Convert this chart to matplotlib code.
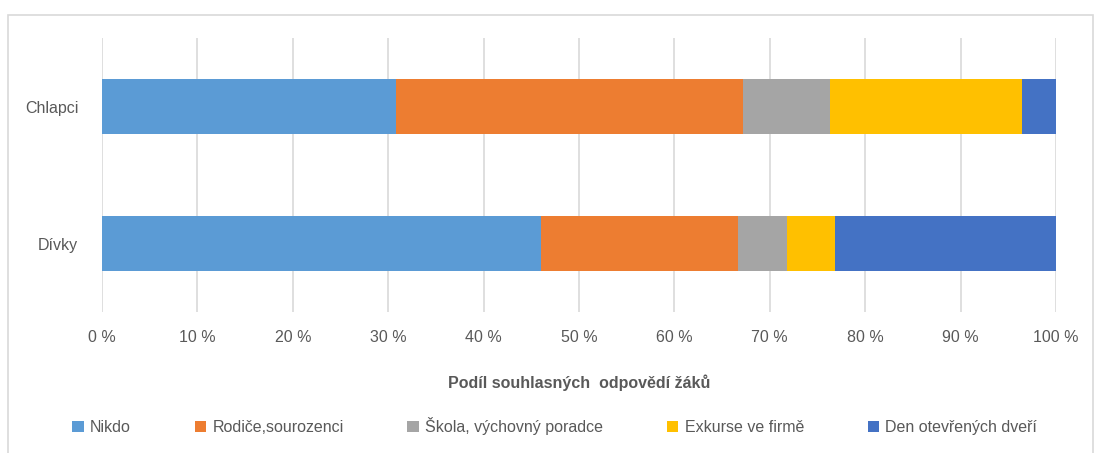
#!/usr/bin/env python3
"""stacked horizontal bar chart of student answers"""
import matplotlib.pyplot as plt
from matplotlib.patches import Rectangle

plt.rcParams['font.family'] = ['Liberation Sans Narrow', 'Liberation Sans',
                               'DejaVu Sans']

groups = ["Dívky", "Chlapci"]
series = ["Nikdo", "Rodiče,sourozenci", "Škola, výchovný poradce",
          "Exkurse ve firmě", "Den otevřených dveří"]
# shares in percent, order follows groups
nikdo = [46.0, 30.8]
rodice = [20.7, 36.4]
skola = [5.1, 9.1]
exkurse = [5.0, 20.1]
den = [23.2, 3.6]
colors = ["#5b9bd5", "#ed7d31", "#a5a5a5", "#ffc000", "#4472c4"]
xticks = [0, 10, 20, 30, 40, 50, 60, 70, 80, 90, 100]

fig = plt.figure(figsize=(10.94, 4.53), dpi=100)
ax = fig.add_axes([0.0932, 0.311, 0.872, 0.605])

# chart frame
fig.patches.append(Rectangle((8 / 1094, -0.1), 1085 / 1094, 1.1 - 15 / 453,
                             transform=fig.transFigure, fill=False,
                             edgecolor="#d9d9d9", linewidth=1.2))

left = [0, 0]
for name, vals, col in zip(series, [nikdo, rodice, skola, exkurse, den],
                           colors):
    ax.barh(groups, vals, left=left, height=0.4, color=col, label=name)
    left = [a + b for a, b in zip(left, vals)]

ax.set_xlim(0, 100)
ax.set_ylim(-0.5, 1.5)
ax.set_xticks(xticks)
ax.set_xticklabels(["{} %".format(t) for t in xticks])
ax.grid(axis="x", color="#d9d9d9", linewidth=1.2)
ax.set_axisbelow(True)
for s in ax.spines.values():
    s.set_visible(False)
ax.tick_params(length=0, colors="#595959", labelsize=11.5)
ax.tick_params(axis="x", pad=13)
ax.tick_params(axis="y", pad=17)

ax.set_xlabel("Podíl souhlasných  odpovědí žáků", fontsize=11.5,
              fontweight="bold", color="#595959", labelpad=21)

ax.legend(loc="upper left", bbox_to_anchor=(-0.046, -0.33), ncol=5,
          frameon=False, fontsize=11.5, handlelength=0.7, handleheight=0.7,
          handletextpad=0.4, columnspacing=4.0, labelcolor="#595959")

fig.savefig("out.png", dpi=100)
